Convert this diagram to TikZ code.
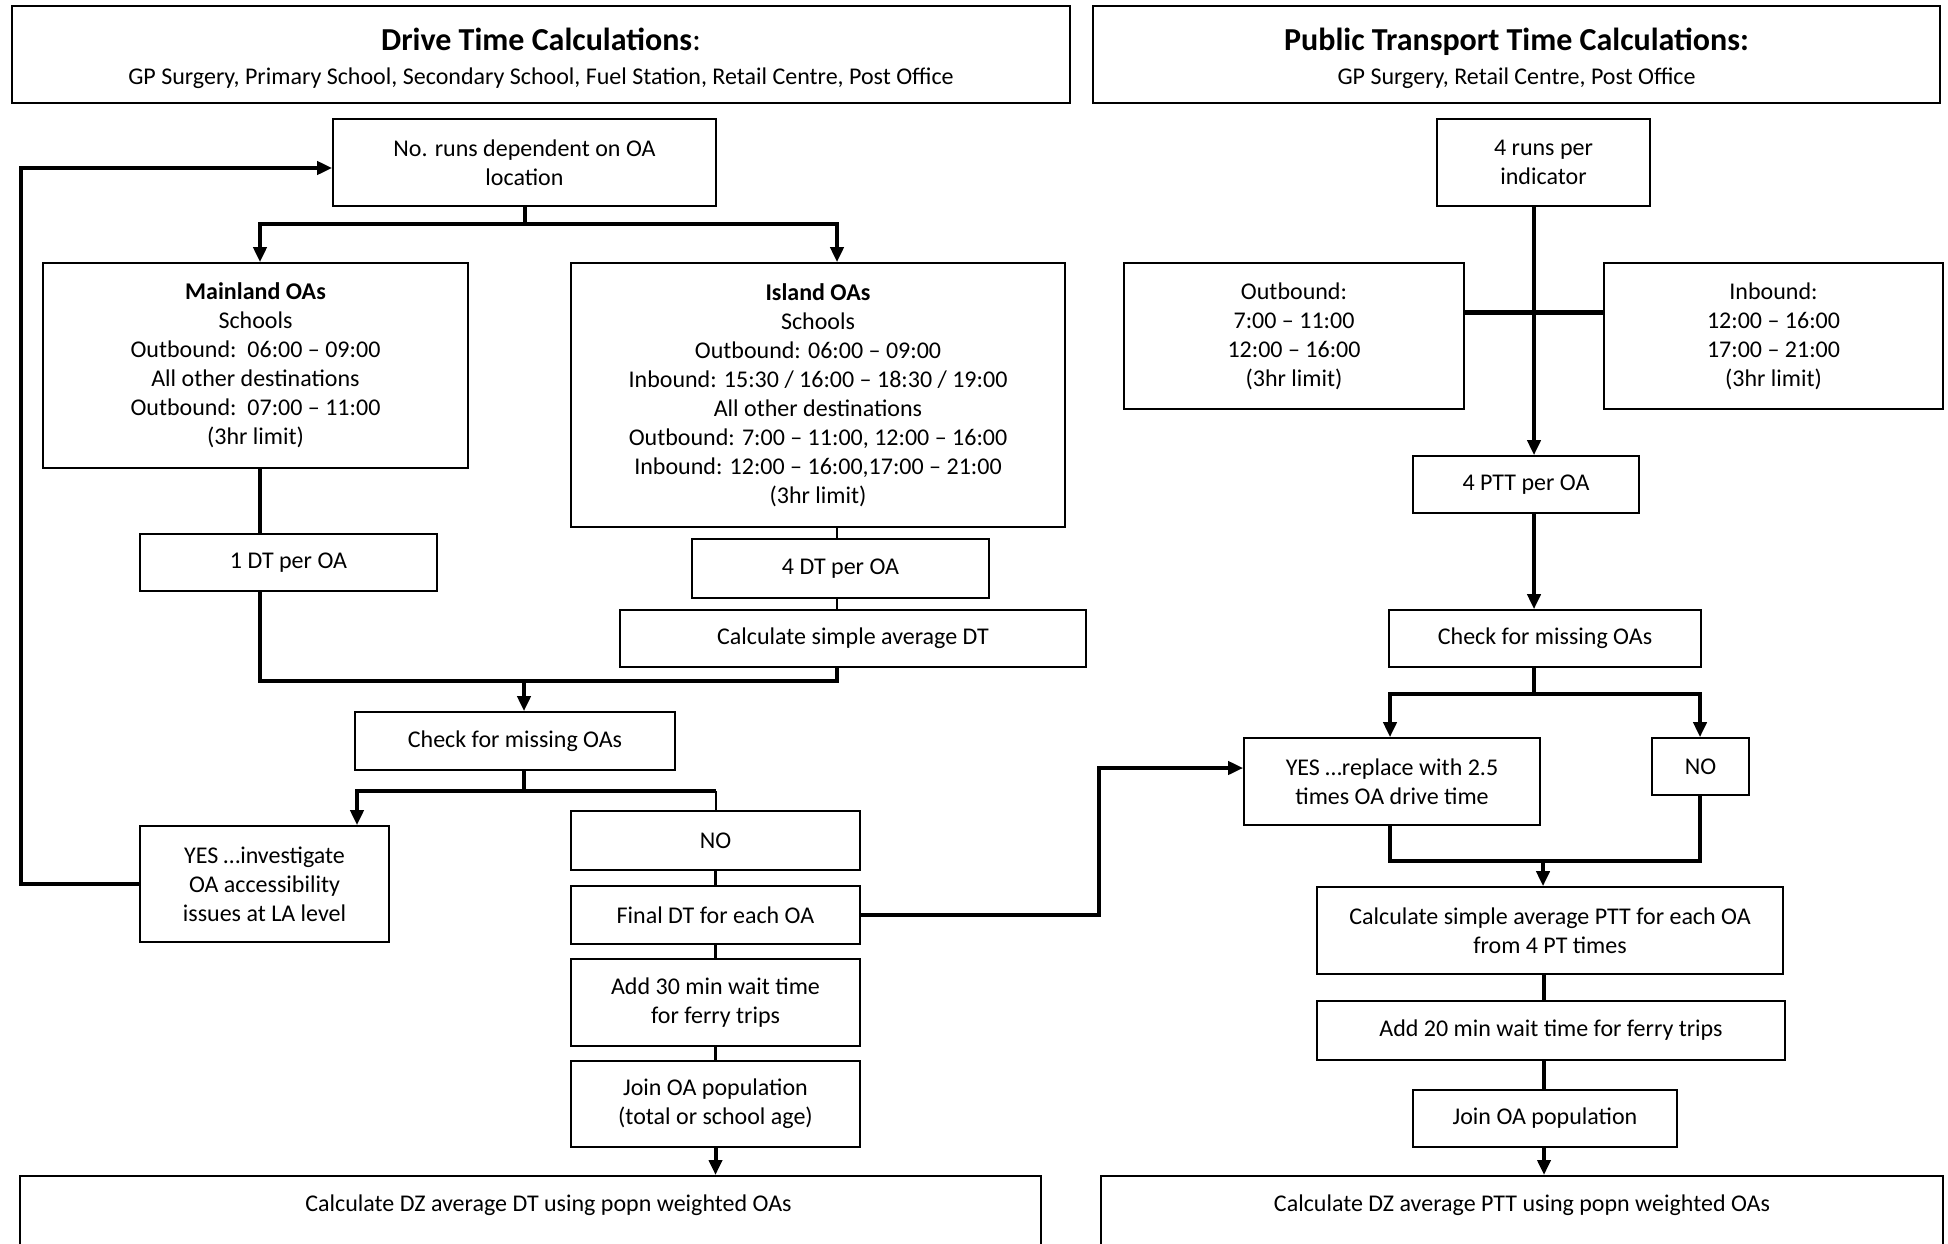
\documentclass[tikz,border=0pt]{standalone}
\usepackage{fontspec}
\setmainfont{Carlito}
\usetikzlibrary{arrows.meta}
\begin{document}
\begin{tikzpicture}[x=1pt,y=-1pt,
  box/.style={draw, line width=1.6pt, inner sep=0pt, align=center, font=\fontsize{24}{29}\selectfont},
  thk/.style={line width=4pt},
  thn/.style={line width=2.4pt},
  xthk/.style={line width=5pt},
  arr/.style={-{Triangle[length=15pt,width=13pt]}}]
\useasboundingbox (0,0) rectangle (1948,1244);
\fill[white] (0,0) rectangle (1948,1244);
\clip (0,0) rectangle (1948,1244);
% headers
\node[box, minimum width=1058pt, minimum height=97pt] (hdrL) at (541,54.5)
  {\rule{0pt}{31pt}{\fontsize{32}{36}\selectfont\textbf{Drive Time Calculations}:}\\[5pt]GP Surgery, Primary School, Secondary School, Fuel Station, Retail Centre, Post Office};
\node[box, minimum width=847pt, minimum height=97pt] (hdrR) at (1516.5,54.5)
  {\rule{0pt}{31pt}{\fontsize{32}{36}\selectfont\textbf{Public Transport Time Calculations:}}\\[5pt]GP Surgery, Retail Centre, Post Office};
% left column
\node[box, minimum width=383pt, minimum height=87pt] (runs) at (524.5,162.5) {No. runs dependent on OA\\location};
\node[box, minimum width=425pt, minimum height=205pt] (mainland) at (255.5,365.5)
  {\textbf{Mainland OAs}\\Schools\\Outbound:\ \ 06:00 – 09:00\\All other destinations\\Outbound:\ \ 07:00 – 11:00\\(3hr limit)};
\node[box, minimum width=494pt, minimum height=264pt] (island) at (818,395)
  {\textbf{Island OAs}\\Schools\\Outbound: 06:00 – 09:00\\Inbound: 15:30 / 16:00 – 18:30 / 19:00\\All other destinations\\Outbound: 7:00 – 11:00, 12:00 – 16:00\\Inbound: 12:00 – 16:00,17:00 – 21:00\\(3hr limit)};
\node[box, minimum width=297pt, minimum height=57pt] (dt1) at (288.5,562.5) {1 DT per OA};
\node[box, minimum width=297pt, minimum height=59pt] (dt4) at (840.5,568.5) {4 DT per OA};
\node[box, minimum width=466pt, minimum height=57pt] (avgDT) at (853,638.5) {Calculate simple average DT};
\node[box, minimum width=320pt, minimum height=58pt] (checkL) at (515,741) {Check for missing OAs};
\node[box, minimum width=249pt, minimum height=116pt] (yesL) at (264.5,884) {YES …investigate\\OA accessibility\\issues at LA level};
\node[box, minimum width=289pt, minimum height=59pt] (noL) at (715.5,840.5) {NO};
\node[box, minimum width=289pt, minimum height=58pt] (finalDT) at (715.5,915) {Final DT for each OA};
\node[box, minimum width=289pt, minimum height=87pt] (add30) at (715.5,1002.5) {Add 30 min wait time\\for ferry trips};
\node[box, minimum width=289pt, minimum height=86pt] (joinL) at (715.5,1104) {Join OA population\\(total or school age)};
\node[box, minimum width=1021pt, anchor=north, inner ysep=19pt, text depth=100pt] (dzL) at (530.5,1175)
  {\hspace*{36pt}Calculate DZ average DT using popn weighted OAs};
% right column
\node[box, minimum width=213pt, minimum height=87pt] (runs4) at (1543.5,162.5) {4 runs per\\indicator};
\node[box, minimum width=340pt, minimum height=146pt] (outb) at (1294,336) {Outbound:\\7:00 – 11:00\\12:00 – 16:00\\(3hr limit)};
\node[box, minimum width=339pt, minimum height=146pt] (inb) at (1773.5,336) {Inbound:\\12:00 – 16:00\\17:00 – 21:00\\(3hr limit)};
\node[box, minimum width=226pt, minimum height=57pt] (ptt4) at (1526,484.5) {4 PTT per OA};
\node[box, minimum width=312pt, minimum height=57pt] (checkR) at (1545,638.5) {Check for missing OAs};
\node[box, minimum width=296pt, minimum height=87pt] (yesR) at (1392,781.5) {YES …replace with 2.5\\times OA drive time};
\node[box, minimum width=97pt, minimum height=57pt] (noR) at (1700.5,766.5) {NO};
\node[box, minimum width=466pt, minimum height=87pt] (avgPTT) at (1550,930.5) {Calculate simple average PTT for each OA\\from 4 PT times};
\node[box, minimum width=468pt, minimum height=59pt] (add20) at (1551,1030.5) {Add 20 min wait time for ferry trips};
\node[box, minimum width=264pt, minimum height=57pt] (joinR) at (1545,1118.5) {Join OA population};
\node[box, minimum width=842pt, anchor=north, inner ysep=19pt, text depth=100pt] (dzR) at (1522,1175)
  {Calculate DZ average PTT using popn weighted OAs};
% helper coordinates
\coordinate (jA) at (524.5,224);
\coordinate (colM) at (260,0);
\coordinate (colI) at (837,0);
\coordinate (loopX) at (21,0);
\coordinate (jB) at (524,681);
\coordinate (jC) at (524,791);
\coordinate (colY) at (357,0);
\coordinate (colN) at (716,0);
\coordinate (colX) at (1099,0);
\coordinate (colR) at (1534,0);
\coordinate (jD) at (1534,694);
\coordinate (colYR) at (1390,0);
\coordinate (colNR) at (1700,0);
\coordinate (jE) at (1543,861);
\coordinate (colP) at (1544,0);
% left connectors
\draw[thk] (runs.south) -- (jA);
\draw[thk,arr] (jA) -- (colM |- jA) -- (colM |- mainland.north);
\draw[thk,arr] (jA) -- (colI |- jA) -- (colI |- island.north);
\draw[thk,arr] (yesL.west) -- (loopX |- yesL.west) -- (loopX |- 0,168) -- ([yshift=-5.5pt]runs.west);
\draw[thk] (colM |- mainland.south) -- (colM |- dt1.north);
\draw[thk] (colM |- dt1.south) -- (colM |- jB) -- (colI |- jB) -- (colI |- avgDT.south);
\draw[thk,arr] (jB) -- (jB |- checkL.north);
\draw[thn] (colI |- island.south) -- (colI |- dt4.north);
\draw[thn] (colI |- dt4.south) -- (colI |- avgDT.north);
\draw[thk] (jC |- checkL.south) -- (jC);
\draw[thk,arr] (jC) -- (colY |- jC) -- (colY |- yesL.north);
\draw[thk] (jC) -- (colN |- jC);
\draw[thn] (colN |- jC) -- (colN |- noL.north);
\draw[thn] (noL.south) -- (finalDT.north);
\draw[thn] (finalDT.south) -- (add30.north);
\draw[thn] (add30.south) -- (joinL.north);
\draw[thk,arr] (joinL.south) -- (joinL.south |- dzL.north);
\draw[thk,arr] (finalDT.east) -- (colX |- finalDT.east) -- (colX |- 0,768) -- ([yshift=13.5pt]yesR.west);
% right connectors
\draw[thk,arr] (colR |- runs4.south) -- (colR |- ptt4.north);
\draw[xthk] ([yshift=24pt]outb.east) -- ([yshift=24pt]inb.west);
\draw[thk,arr] (colR |- ptt4.south) -- (colR |- checkR.north);
\draw[thk] (colR |- checkR.south) -- (jD);
\draw[thk,arr] (jD) -- (colYR |- jD) -- (colYR |- yesR.north);
\draw[thk,arr] (jD) -- (colNR |- jD) -- (colNR |- noR.north);
\draw[thk] (colYR |- yesR.south) -- (colYR |- jE) -- (colNR |- jE) -- (colNR |- noR.south);
\draw[thk,arr] (jE) -- (jE |- avgPTT.north);
\draw[thk] (colP |- avgPTT.south) -- (colP |- add20.north);
\draw[thk] (colP |- add20.south) -- (colP |- joinR.north);
\draw[thk,arr] (colP |- joinR.south) -- (colP |- dzR.north);
\end{tikzpicture}
\end{document}
